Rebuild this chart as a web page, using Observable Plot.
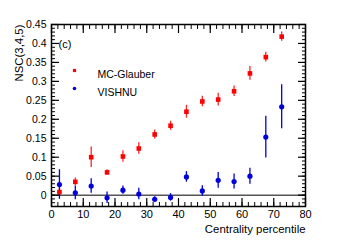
<!DOCTYPE html>
<html>
<head>
<meta charset="utf-8">
<script src="https://cdn.jsdelivr.net/npm/d3@7"></script>
<script src="https://cdn.jsdelivr.net/npm/@observablehq/plot@0.6"></script>
<style>
  html, body { margin: 0; padding: 0; background: #fff; }
  svg { display: block; }
</style>
</head>
<body>
<div id="chart"></div>
<script>
const centrality = [2.5, 7.5, 12.5, 17.5, 22.5, 27.5, 32.5, 37.5, 42.5, 47.5, 52.5, 57.5, 62.5, 67.5, 72.5];
const glauberValues = [0.008, 0.035, 0.100, 0.060, 0.102, 0.123, 0.160, 0.183, 0.220, 0.247, 0.252, 0.274, 0.321, 0.364, 0.418];
const glauberErrors = [0.010, 0.010, 0.027, 0.007, 0.015, 0.015, 0.012, 0.012, 0.017, 0.014, 0.017, 0.014, 0.018, 0.013, 0.012];
const vishnuValues = [0.028, 0.006, 0.024, -0.007, 0.013, 0.003, -0.011, -0.006, 0.048, 0.011, 0.039, 0.036, 0.050, 0.153, 0.233];
const vishnuErrors = [0.039, 0.018, 0.019, 0.015, 0.011, 0.015, 0.007, 0.010, 0.014, 0.014, 0.021, 0.020, 0.021, 0.055, 0.058];
const xTicks = [0, 10, 20, 30, 40, 50, 60, 70, 80];
const xMinorTicks = d3.range(0, 81, 2);
const yTicks = [0, 0.05, 0.1, 0.15, 0.2, 0.25, 0.3, 0.35, 0.4, 0.45];
const yMinorTicks = d3.range(-3, 46, 1).map(v => v / 100);
const seriesNames = ["MC-Glauber", "VISHNU"];
const seriesColors = ["#ff0000", "#0000dd"];
const panelLabel = "(c)";
const xLabel = "Centrality percentile";
const yLabel = "NSC(3,4,5)";

const glauber = centrality.map((c, i) => ({x: c, y: glauberValues[i], e: glauberErrors[i]}));
const vishnu = centrality.map((c, i) => ({x: c, y: vishnuValues[i], e: vishnuErrors[i]}));
const fmt = d => String(+d.toFixed(2));

const chart = Plot.plot({
  width: 339,
  height: 243,
  marginLeft: 51,
  marginRight: 34,
  marginTop: 24,
  marginBottom: 37,
  style: {fontFamily: "Liberation Sans, Arial, sans-serif", fontSize: "10.5px", color: "#000", background: "#fff"},
  x: {domain: [0, 80]},
  y: {domain: [-0.03, 0.45]},
  marks: [
    Plot.ruleY([0], {stroke: "#555", strokeWidth: 1.5}),
    // error bars
    Plot.ruleX(glauber, {x: "x", y1: d => d.y - d.e, y2: d => d.y + d.e, stroke: seriesColors[0], strokeWidth: 1.3, strokeOpacity: 0.85}),
    Plot.ruleX(vishnu, {x: "x", y1: d => d.y - d.e, y2: d => d.y + d.e, stroke: seriesColors[1], strokeWidth: 1.3}),
    Plot.dot(glauber, {x: "x", y: "y", symbol: "square", r: 2.6, fill: seriesColors[0], stroke: "none"}),
    Plot.dot(vishnu, {x: "x", y: "y", symbol: "circle", r: 2.6, fill: seriesColors[1], stroke: "none"}),
    // axes: labels
    Plot.axisX(xTicks, {anchor: "bottom", tickSize: 0, tickPadding: 4, tickFormat: d => String(d), fontSize: 11, label: null}),
    Plot.axisY(yTicks, {anchor: "left", tickSize: 0, tickPadding: 5, tickFormat: fmt, fontSize: 10.5, label: null}),
    // inward ticks
    Plot.axisX(xTicks, {anchor: "bottom", tickSize: -8, text: null, label: null, strokeWidth: 1.2}),
    Plot.axisX(xMinorTicks, {anchor: "bottom", tickSize: -4, text: null, label: null, strokeWidth: 1}),
    Plot.axisX(xTicks, {anchor: "top", tickSize: -8, text: null, label: null, strokeWidth: 1.2}),
    Plot.axisX(xMinorTicks, {anchor: "top", tickSize: -4, text: null, label: null, strokeWidth: 1}),
    Plot.axisY(yTicks, {anchor: "left", tickSize: -8, text: null, label: null, strokeWidth: 1.2}),
    Plot.axisY(yMinorTicks, {anchor: "left", tickSize: -4, text: null, label: null, strokeWidth: 1}),
    Plot.axisY(yTicks, {anchor: "right", tickSize: -8, text: null, label: null, strokeWidth: 1.2}),
    Plot.axisY(yMinorTicks, {anchor: "right", tickSize: -4, text: null, label: null, strokeWidth: 1}),
    Plot.frame({stroke: "#000", strokeWidth: 1.5}),
    // axis titles
    Plot.text([xLabel], {frameAnchor: "bottom-right", textAnchor: "end", dy: 26, fontSize: 11.4, fill: "#000"}),
    Plot.text([yLabel], {x: 0, y: 0.45, rotate: -90, textAnchor: "end", dx: -32, fontSize: 11.4, fill: "#000"}),
    // panel label and legend
    Plot.text([panelLabel], {frameAnchor: "top-left", textAnchor: "start", dx: 7, dy: 16, fontSize: 11, fill: "#000"}),
    Plot.dot([seriesNames[0]], {frameAnchor: "top-left", dx: 23, dy: 46, symbol: "square", r: 1.8, fill: seriesColors[0]}),
    Plot.dot([seriesNames[1]], {frameAnchor: "top-left", dx: 23, dy: 64, symbol: "circle", r: 1.8, fill: seriesColors[1]}),
    Plot.text([seriesNames[0]], {frameAnchor: "top-left", textAnchor: "start", dx: 46, dy: 46, fontSize: 10.5, fill: "#000"}),
    Plot.text([seriesNames[1]], {frameAnchor: "top-left", textAnchor: "start", dx: 46, dy: 64, fontSize: 10.5, fill: "#000"})
  ]
});
document.getElementById("chart").appendChild(chart);
</script>
</body>
</html>
